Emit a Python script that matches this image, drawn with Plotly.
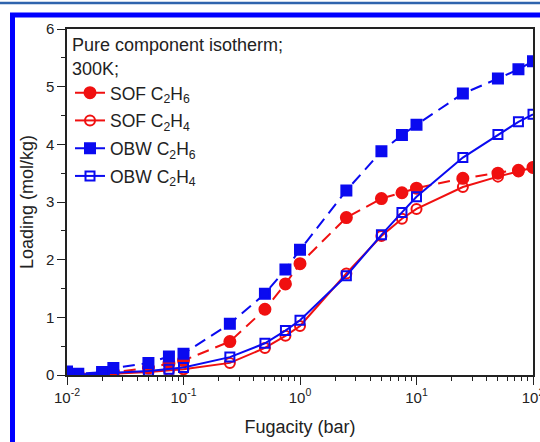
import plotly.graph_objects as go

# ---------------- data ----------------
fugacity = [0.01, 0.0125, 0.02, 0.025, 0.05, 0.075, 0.1, 0.25, 0.5, 0.75, 1,
            2.5, 5, 7.5, 10, 25, 50, 75, 100]
sof_c2h6 = [0.02, 0.01, 0.02, 0.05, 0.12, 0.20, 0.25, 0.58, 1.14, 1.58, 1.93,
            2.73, 3.06, 3.16, 3.24, 3.41, 3.50, 3.55, 3.60]
sof_c2h4 = [0.01, 0.01, 0.01, 0.02, 0.05, 0.08, 0.10, 0.21, 0.47, 0.68, 0.85,
            1.76, 2.41, 2.71, 2.88, 3.26, 3.44, 3.53, 3.60]
obw_c2h6 = [0.06, 0.02, 0.05, 0.12, 0.21, 0.32, 0.37, 0.89, 1.41, 1.83, 2.17,
            3.20, 3.88, 4.16, 4.34, 4.88, 5.14, 5.30, 5.44]
obw_c2h4 = [0.03, 0.01, 0.02, 0.04, 0.07, 0.10, 0.13, 0.31, 0.55, 0.77, 0.95,
            1.72, 2.43, 2.82, 3.09, 3.77, 4.17, 4.39, 4.52]

series_names = ["SOF C<sub>2</sub>H<sub>6</sub>", "SOF C<sub>2</sub>H<sub>4</sub>",
                "OBW C<sub>2</sub>H<sub>6</sub>", "OBW C<sub>2</sub>H<sub>4</sub>"]
x_tickvals = [0.01, 0.1, 1, 10, 100]
x_ticktext = ["10<sup>-2</sup>", "10<sup>-1</sup>", "10<sup>0</sup>",
              "10<sup>1</sup>", "10<sup>2</sup>"]
y_tickvals = [0, 1, 2, 3, 4, 5, 6]
legend_title = "Pure component isotherm;<br>300K;"
x_title = "Fugacity (bar)"
y_title = "Loading (mol/kg)"

RED = "#f01010"
BLUE = "#0a0af0"
FONT = "Liberation Sans, Arial, sans-serif"

W, H = 540, 442
ML, MR, MT, MB = 67, 7, 29, 67
pw, ph = W - ML - MR, H - MT - MB


def px_x(p):
    return (p - ML) / pw


def px_y(p):
    return (H - MB - p) / ph


fig = go.Figure()

styles = [
    (sof_c2h6, RED, "12px,7px", "circle", RED, 11),
    (sof_c2h4, RED, "solid", "circle-open", RED, 10),
    (obw_c2h6, BLUE, "12px,7px", "square", BLUE, 10),
    (obw_c2h4, BLUE, "solid", "square-open", BLUE, 9),
]
for i, (vals, col, dash, sym, mcol, msz) in enumerate(styles):
    fig.add_trace(go.Scatter(
        x=fugacity, y=vals, name=series_names[i], mode="lines+markers",
        line=dict(color=col, width=2, dash=dash),
        marker=dict(symbol=sym, size=msz, color=mcol,
                    line=dict(color=mcol, width=2)),
        legendgroup=str(i),
    ))

minor_x = [m * 10 ** e for e in range(-2, 2) for m in range(2, 10)]

fig.update_xaxes(
    type="log", range=[-2, 2],
    tickvals=x_tickvals, ticktext=x_ticktext,
    ticks="outside", ticklen=8, tickwidth=1.3, tickcolor="#222",
    showline=True, linecolor="#222", linewidth=1.5, mirror=True,
    showgrid=False, zeroline=False,
    tickfont=dict(family=FONT, size=15, color="#222"),
    ticklabeloverflow="allow",
    minor=dict(tickvals=minor_x, ticks="outside", ticklen=4,
               tickwidth=1.2, tickcolor="#222", showgrid=False),
    title=dict(text=x_title, font=dict(family=FONT, size=18, color="#222"),
               standoff=16),
    automargin=False,
)
fig.update_yaxes(
    range=[0, 6], tickvals=y_tickvals,
    ticks="outside", ticklen=8, tickwidth=1.3, tickcolor="#222",
    showline=True, linecolor="#222", linewidth=1.5, mirror=True,
    showgrid=False, zeroline=False,
    tickfont=dict(family=FONT, size=15, color="#222"),
    minor=dict(dtick=0.5, ticks="outside", ticklen=4, tickwidth=1.2,
               tickcolor="#222", showgrid=False),
    title=dict(text=y_title, font=dict(family=FONT, size=18, color="#222"),
               standoff=8),
    automargin=False,
)

shapes = [
    # thin journal rule at the very top
    dict(type="line", xref="paper", yref="paper",
         x0=px_x(0), x1=px_x(W), y0=px_y(3), y1=px_y(3),
         line=dict(color="#2f64ad", width=2.5)),
    # thick blue frame
    dict(type="rect", xref="paper", yref="paper",
         x0=px_x(12.5), x1=px_x(W + 20), y0=px_y(15), y1=px_y(H + 20),
         line=dict(color="#0000ff", width=5), fillcolor="rgba(0,0,0,0)",
         layer="below"),
]

fig.update_layout(
    width=W, height=H,
    margin=dict(l=ML, r=MR, t=MT, b=MB),
    paper_bgcolor="white", plot_bgcolor="white",
    font=dict(family=FONT, color="#222"),
    shapes=shapes,
    showlegend=True,
    legend=dict(
        x=px_x(70), y=px_y(28), xanchor="left", yanchor="top",
        bgcolor="rgba(0,0,0,0)", borderwidth=0,
        font=dict(family=FONT, size=17.5, color="#222"),
        title=dict(text=legend_title, side="top",
                   font=dict(family=FONT, size=18, color="#222")),
        tracegroupgap=2, itemwidth=30,
    ),
)

fig.write_html("out.html")
